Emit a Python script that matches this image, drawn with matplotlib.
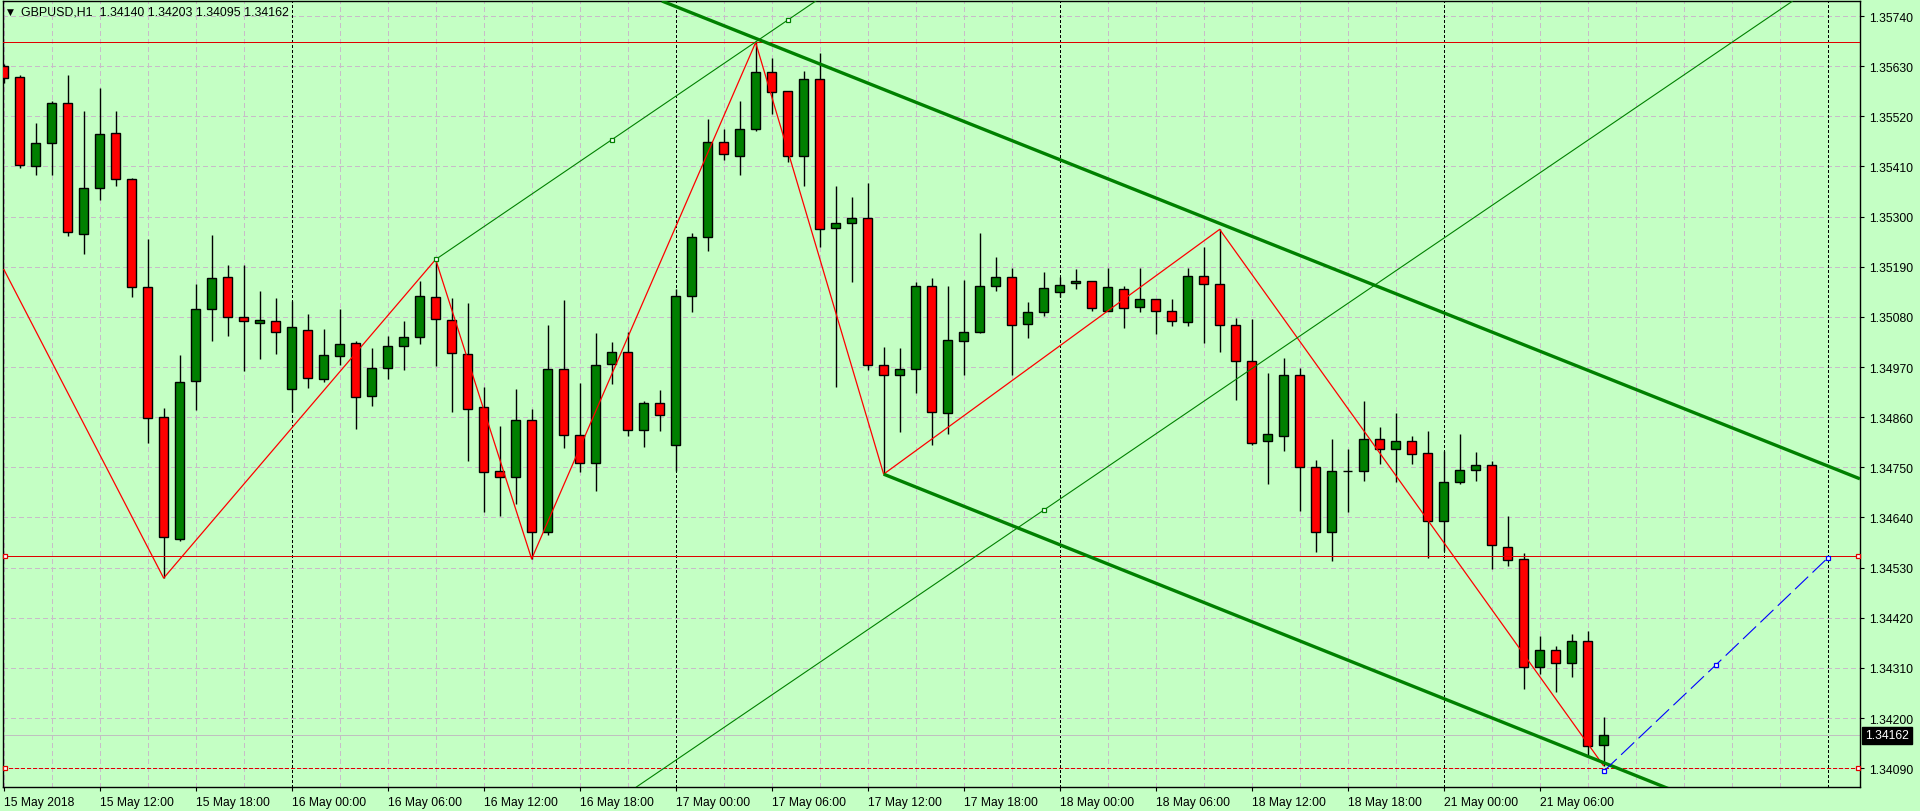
import numpy as np
import matplotlib
matplotlib.use("Agg")
import matplotlib.pyplot as plt
import matplotlib.transforms as mtransforms

# GBPUSD H1, bars from 15 May 06:00 to 21 May 10:00 (weekend skipped)
opens = [
    1.35630, 1.35606, 1.35410, 1.35461, 1.35549, 1.35261, 1.35362, 1.35483, 1.35382, 1.35145,
    1.34860, 1.34593, 1.34939, 1.35097, 1.35167, 1.35079, 1.35066, 1.35070, 1.34921, 1.35051,
    1.34943, 1.34994, 1.35022, 1.34906, 1.34967, 1.35016, 1.35035, 1.35123, 1.35073, 1.34998,
    1.34882, 1.34741, 1.34728, 1.34853, 1.34608, 1.34965, 1.34820, 1.34759, 1.34976, 1.35002,
    1.34831, 1.34891, 1.34798, 1.35125, 1.35255, 1.35463, 1.35434, 1.35492, 1.35617, 1.35575,
    1.35434, 1.35601, 1.35274, 1.35285, 1.35296, 1.34974, 1.34952, 1.34965, 1.35147, 1.34869,
    1.35026, 1.35046, 1.35147, 1.35167, 1.35064, 1.35090, 1.35134, 1.35154, 1.35158, 1.35094,
    1.35141, 1.35101, 1.35119, 1.35094, 1.35068, 1.35169, 1.35152, 1.35062, 1.34983, 1.34807,
    1.34818, 1.34952, 1.34750, 1.34608, 1.34741, 1.34741, 1.34812, 1.34790, 1.34807, 1.34781,
    1.34632, 1.34717, 1.34744, 1.34755, 1.34575, 1.34548, 1.34311, 1.34349, 1.34320, 1.34368,
    1.34140,
]
highs = [
    1.35635, 1.35611, 1.35505, 1.35553, 1.35611, 1.35532, 1.35582, 1.35532, 1.35385, 1.35251,
    1.34880, 1.34996, 1.35152, 1.35260, 1.35194, 1.35194, 1.35137, 1.35121, 1.35115, 1.35086,
    1.35053, 1.35097, 1.35026, 1.35011, 1.35037, 1.35070, 1.35158, 1.35206, 1.35121, 1.35111,
    1.34926, 1.34841, 1.34922, 1.34878, 1.35062, 1.35117, 1.34935, 1.35045, 1.35025, 1.35046,
    1.34895, 1.34919, 1.35141, 1.35264, 1.35514, 1.35492, 1.35554, 1.35682, 1.35647, 1.35575,
    1.35619, 1.35658, 1.35367, 1.35343, 1.35374, 1.35013, 1.35011, 1.35156, 1.35165, 1.35147,
    1.35162, 1.35263, 1.35211, 1.35187, 1.35112, 1.35178, 1.35167, 1.35184, 1.35158, 1.35187,
    1.35147, 1.35187, 1.35119, 1.35119, 1.35187, 1.35233, 1.35272, 1.35077, 1.35075, 1.34956,
    1.34989, 1.34967, 1.34765, 1.34812, 1.34790, 1.34895, 1.34838, 1.34869, 1.34818, 1.34829,
    1.34785, 1.34823, 1.34783, 1.34764, 1.34643, 1.34561, 1.34379, 1.34358, 1.34384, 1.34390,
    1.34203,
]
lows = [
    1.35593, 1.35406, 1.35392, 1.35392, 1.35258, 1.35218, 1.35337, 1.35368, 1.35123, 1.34803,
    1.34507, 1.34589, 1.34876, 1.35028, 1.35037, 1.34962, 1.34988, 1.34999, 1.34872, 1.34925,
    1.34938, 1.34975, 1.34833, 1.34885, 1.34944, 1.34964, 1.35021, 1.34973, 1.34871, 1.34763,
    1.34651, 1.34644, 1.34670, 1.34549, 1.34602, 1.34793, 1.34740, 1.34697, 1.34933, 1.34819,
    1.34795, 1.34830, 1.34741, 1.35090, 1.35225, 1.35425, 1.35392, 1.35488, 1.35526, 1.35420,
    1.35368, 1.35233, 1.34927, 1.35157, 1.34964, 1.34735, 1.34828, 1.34914, 1.34798, 1.34824,
    1.34953, 1.35044, 1.35137, 1.34953, 1.35034, 1.35081, 1.35123, 1.35141, 1.35092, 1.35092,
    1.35056, 1.35090, 1.35043, 1.35059, 1.35059, 1.35023, 1.35004, 1.34898, 1.34798, 1.34714,
    1.34785, 1.34655, 1.34564, 1.34544, 1.34651, 1.34719, 1.34757, 1.34717, 1.34757, 1.34551,
    1.34566, 1.34713, 1.34719, 1.34526, 1.34533, 1.34263, 1.34296, 1.34257, 1.34290, 1.34118,
    1.34095,
]
closes = [
    1.35605, 1.35413, 1.35461, 1.35549, 1.35266, 1.35362, 1.35481, 1.35382, 1.35145, 1.34858,
    1.34597, 1.34937, 1.35097, 1.35165, 1.35079, 1.35070, 1.35073, 1.35046, 1.35057, 1.34945,
    1.34996, 1.35020, 1.34904, 1.34967, 1.35016, 1.35035, 1.35125, 1.35075, 1.35000, 1.34877,
    1.34739, 1.34728, 1.34853, 1.34608, 1.34965, 1.34820, 1.34759, 1.34974, 1.35002, 1.34831,
    1.34891, 1.34864, 1.35125, 1.35255, 1.35463, 1.35437, 1.35492, 1.35617, 1.35573, 1.35434,
    1.35601, 1.35272, 1.35285, 1.35296, 1.34974, 1.34952, 1.34965, 1.35147, 1.34871, 1.35029,
    1.35046, 1.35147, 1.35167, 1.35062, 1.35090, 1.35143, 1.35149, 1.35158, 1.35099, 1.35145,
    1.35099, 1.35119, 1.35094, 1.35070, 1.35169, 1.35152, 1.35062, 1.34983, 1.34804, 1.34823,
    1.34952, 1.34750, 1.34608, 1.34741, 1.34741, 1.34812, 1.34790, 1.34807, 1.34779, 1.34632,
    1.34717, 1.34744, 1.34755, 1.34579, 1.34546, 1.34311, 1.34349, 1.34320, 1.34368, 1.34138,
    1.34162,
]

time_labels = [
    "15 May 2018", "15 May 12:00", "15 May 18:00", "16 May 00:00", "16 May 06:00",
    "16 May 12:00", "16 May 18:00", "17 May 00:00", "17 May 06:00", "17 May 12:00",
    "17 May 18:00", "18 May 00:00", "18 May 06:00", "18 May 12:00", "18 May 18:00",
    "21 May 00:00", "21 May 06:00",
]
day_starts = [18, 42, 66, 90, 114]
price_ticks = [1.34090, 1.34200, 1.34310, 1.34420, 1.34530, 1.34640, 1.34750, 1.34860,
               1.34970, 1.35080, 1.35190, 1.35300, 1.35410, 1.35520, 1.35630, 1.35740]

# drawn objects (bar index, price)
zigzag_x = [0, 10, 27, 33, 47, 55, 76, 100]
zigzag_y = [1.35185, 1.34507, 1.35206, 1.34549, 1.35682, 1.34735, 1.35272, 1.34095]
channel_upper = [(47, 1.35691), (93.5, 1.35040)]
channel_lower = [(55, 1.34735), (103.7, 1.34050)]
trend_a = [(27, 1.35206), (38, 1.35467), (49, 1.35731)]
trend_b = [(65, 1.34656), (93.5, 1.35336)]
blue_x = [100, 107, 114]
blue_y = [1.34083, 1.34316, 1.34551]
hline_top = 1.35682
hline_mid = 1.34555
hline_low = 1.34090
bid = 1.34162
title = "GBPUSD,H1  1.34140 1.34203 1.34095 1.34162"

BG = "#C4FFC4"
GREEN = "#008000"
RED = "#FF0000"
LRED = "#E00000"
GRID = "#C8BCC8"
PX = 0.72  # one pixel in points

plt.rcParams["font.family"] = ["Liberation Sans", "DejaVu Sans"]
plt.rcParams["lines.scale_dashes"] = False
plt.rcParams["lines.solid_capstyle"] = "butt"

fig = plt.figure(figsize=(19.2, 8.12), dpi=100, facecolor=BG)
ax = fig.add_axes([0.0014, 0.02919, 0.96734, 0.96835])
ax.set_facecolor(BG)
ax.set_xlim(-0.06, 116.02)
ax.set_ylim(1.34048, 1.35773)

for s in ax.spines.values():
    s.set_color("black")
    s.set_linewidth(1.0)

# grid
for gx in range(0, 117, 3):
    if gx in day_starts:
        continue
    ax.axvline(gx, color=GRID, lw=PX, ls=(0, (3.0, 2.2)), zorder=1, antialiased=False)
for gy in price_ticks:
    ax.axhline(gy, color=GRID, lw=PX, ls=(0, (3.0, 2.2)), zorder=1, antialiased=False)
for d in day_starts:
    ax.axvline(d, color="black", lw=PX, ls=(0, (1.6, 1.6)), zorder=1.5, antialiased=False)

# bid line
ax.axhline(bid, color="#C0C0C0", lw=PX, zorder=2, antialiased=False)

# candles
x = np.arange(len(opens))
o = np.array(opens)
h = np.array(highs)
l = np.array(lows)
c = np.array(closes)
up = c >= o
ax.vlines(x, l, h, color="black", lw=1.0, zorder=3)
ax.bar(x, np.abs(c - o), bottom=np.minimum(o, c), width=0.58,
       color=np.where(up, GREEN, RED), edgecolor="black", linewidth=1.0, zorder=4)

# horizontal lines
trans_h = mtransforms.blended_transform_factory(ax.transAxes, ax.transData)
ax.axhline(hline_top, color=LRED, lw=PX, zorder=5, antialiased=False)
ax.axhline(hline_mid, color=LRED, lw=PX, zorder=5, antialiased=False)
ax.axhline(hline_low, color=LRED, lw=PX, ls=(0, (2.6, 1.6)), zorder=5, antialiased=False)
for yv in (hline_mid, hline_low):
    ax.plot([0.0012, 0.9987], [yv, yv], ls="none", marker="s", ms=3.4, mfc="white",
            mec=LRED, mew=0.9, transform=trans_h, zorder=8, clip_on=False)

# zigzag
ax.plot(zigzag_x, zigzag_y, color=RED, lw=0.9, zorder=6)


def ray_to(p1, p2, x_end):
    k = (p2[1] - p1[1]) / (p2[0] - p1[0])
    return [p1[0], x_end], [p1[1], p1[1] + k * (x_end - p1[0])]


# channel
ax.axline(channel_upper[0], channel_upper[1], color=GREEN, lw=2.4, zorder=6)
lx, ly = ray_to(channel_lower[0], channel_lower[1], 120)
ax.plot(lx, ly, color=GREEN, lw=2.4, zorder=6)

# thin trend lines
ax_, ay_ = ray_to(trend_a[0], trend_a[2], 120)
ax.plot(ax_, ay_, color=GREEN, lw=0.8, zorder=6)
ax.plot([p[0] for p in trend_a], [p[1] for p in trend_a], ls="none", marker="s",
        ms=3.4, mfc="white", mec=GREEN, mew=0.9, zorder=8)
ax.axline(trend_b[0], trend_b[1], color=GREEN, lw=0.8, zorder=6)
ax.plot([trend_b[0][0]], [trend_b[0][1]], ls="none", marker="s",
        ms=3.4, mfc="white", mec=GREEN, mew=0.9, zorder=8)

# blue projection
ax.plot(blue_x, blue_y, color="#0000FF", lw=0.8, ls=(0, (13, 4.3)), zorder=7)
ax.plot(blue_x, blue_y, ls="none", marker="s", ms=3.4, mfc="white", mec="#0000FF",
        mew=0.9, zorder=8)

# axes ticks
ax.yaxis.tick_right()
ax.set_yticks(price_ticks)
ax.set_yticklabels([f"{p:.5f}" for p in price_ticks])
ax.set_xticks(list(range(0, 6 * len(time_labels), 6)))
ax.set_xticklabels(time_labels)
for lab in ax.get_xticklabels():
    lab.set_horizontalalignment("left")
ax.tick_params(axis="y", direction="out", length=3, width=0.8, pad=3.4,
               labelsize=8.7, colors="black")
ax.tick_params(axis="x", direction="out", length=3, width=0.8, pad=3.0,
               labelsize=8.7, colors="black")

# current price box
ax.text(1.0027, bid, f"{bid:.5f}", transform=trans_h, ha="left", va="center",
        fontsize=8.7, color="white", zorder=10, clip_on=False,
        bbox=dict(boxstyle="square,pad=0.22", fc="black", ec="black"))

# header
fig.text(7 / 1920, 1 - 12.5 / 812, "\u25BC", fontsize=6.5, family="DejaVu Sans",
         va="center", ha="left", color="black")
fig.text(21 / 1920, 1 - 12.7 / 812, title, fontsize=8.9, va="center", ha="left",
         color="black")

fig.savefig("out.png", dpi=100, facecolor=BG)
